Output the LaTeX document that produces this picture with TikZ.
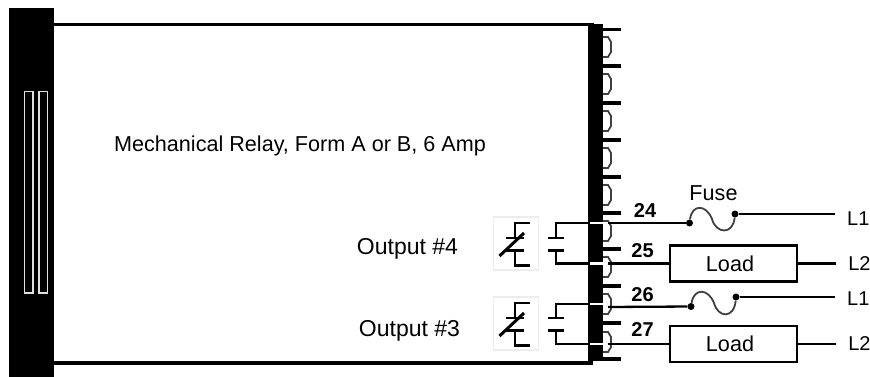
\documentclass[tikz,border=0pt]{standalone}
\usepackage{fontspec}
\setmainfont{Liberation Sans}
\usetikzlibrary{positioning}

\begin{document}
\begin{tikzpicture}
  [
    x=1pt, y=-1pt,
    font=\fontsize{21.6}{24}\selectfont,
    wire/.style={draw, line width=2.3pt},
    edge/.style={draw, line width=3.4pt},
    hook/.style={draw=black!75, line width=1.8pt},
    slot/.style={draw=black!12, fill=black, line width=1.6pt},
    symbox/.style={draw=black!7, line width=1.5pt, fill=white, minimum width=45pt, minimum height=53pt, inner sep=0pt},
    load/.style={draw, line width=2.3pt, rectangle, minimum width=127pt, minimum height=36pt, inner sep=0pt},
    dot/.style={circle, fill=black, minimum size=7pt, inner sep=0pt},
    pinno/.style={font=\fontsize{20}{24}\selectfont\bfseries, inner sep=0pt},
    term/.style={font=\fontsize{20}{24}\selectfont, inner xsep=12pt, inner ysep=0pt, anchor=west}
  ]
  \useasboundingbox (0,0) rectangle (870,377);
  \fill [white] (0,0) rectangle (870,377);

  % case
  \fill (9,8) rectangle (54,377);
  \fill (588,24) rectangle (603,361);
  \path [edge] (54,24.5) -- (594,24.5);
  \path [edge] (54,363) -- (593,363);
  \path [slot] (24.5,91.5) rectangle (33,293);
  \path [slot] (39,91.5) rectangle (47.5,293);

  % pins and hooks
  \foreach \y in {29.5,66,103,140,177,213,249,286,323,359}
    \path [edge] (603,\y) -- (621,\y);
  \foreach \y in {47,84,121,158,195,231,267,304,342}
    \path [hook] (603,\y-10) -- (608,\y-10) -- (611,\y-5) -- (611,\y+5) -- (608,\y+10) -- (603,\y+10);

  \node [inner sep=0pt] (title) at (300,146) {Mechanical Relay, Form A or B, 6 Amp};
  \node [inner sep=0pt, font=\fontsize{23}{24}\selectfont] (out4) at (407.5,249) {Output \#4};
  \node [inner sep=0pt, font=\fontsize{23}{24}\selectfont] (out3) at (409.5,331) {Output \#3};

  % relay symbols
  \foreach \o/\n in {0/4,80/3} {
    \node (sym\n) [symbox] at (516,243.5+\o) {};
    \path [wire] (530,223+\o) -- (515,223+\o) -- (515,238+\o);
    \path [wire] (506,238+\o) -- (524,238+\o);
    \path [wire] (506,250.5+\o) -- (524,250.5+\o);
    \path [wire] (515,250.5+\o) -- (515,265.5+\o) -- (530,265.5+\o);
    \draw [line width=3pt] (499.5,256+\o) -- (524,233+\o);
    \path [wire] (548,238+\o) -- (564,238+\o);
    \path [wire] (548,250.5+\o) -- (564,250.5+\o);
  }

  \coordinate (a4) at (556,238);
  \coordinate (b4) at (556,250.5);
  \coordinate (a3) at (556,318);
  \coordinate (b3) at (556,330.5);
  \coordinate (c4) at (590,223);
  \coordinate (d4) at (590,263.5);
  \coordinate (c3) at (590,304);
  \coordinate (d3) at (590,344);

  \node (load1) [load] at (733.5,263.5) {Load\hspace*{7pt}};
  \node (load2) [load] at (733.5,344) {Load\hspace*{7pt}};
  \node (dota) [dot] at (689.5,223) {};
  \node (dotb) [dot] at (735,214) {};
  \node (dotc) [dot] at (691,306.5) {};
  \node (dotd) [dot] at (736,297) {};
  \node (fuse) [inner sep=0pt] at (713.5,193) {Fuse};

  \node (l1a) [term] at (835,218.5) {L1};
  \node (l2a) [term, right=38pt of load1] {L2};
  \node (l1b) [term] at (835,298.5) {L1};
  \node (l2b) [term, right=38pt of load2] {L2};

  \node [pinno] (n24) at (645,211) {24};
  \node [pinno] (n25) at (642.5,250.5) {25};
  \node [pinno] (n26) at (642.5,294.5) {26};
  \node [pinno] (n27) at (642.5,330) {27};

  % wires out to the terminals
  \path [wire] (a4) |- (c4);
  \path [wire] (b4) |- (d4);
  \path [wire] (a3) |- (c3);
  \path [wire] (b3) |- (d3);
  \path [wire, draw=white] (c4) -- ++(18,0);
  \path [wire, draw=white] (d4) -- ++(18,0);
  \path [wire, draw=white] (c3) -- ++(18,0);
  \path [wire, draw=white] (d3) -- ++(18,0);

  \path [wire] (608,223) -- (dota);
  \path [wire] (608,263.5) -- (load1);
  \path [wire] (608,307) -- (dotc);
  \path [wire] (608,344) -- (load2);

  \path [hook] (dota) .. controls (692,204) and (706,204) .. (712,219) .. controls (716,234) and (733,235) .. (dotb);
  \path [hook] (dotc) .. controls (694,288) and (708,288) .. (714,303) .. controls (718,318) and (734,319) .. (dotd);

  \path [wire] (dotb) -- (835,214);
  \path [wire] (dotd) -- (835,297);
  \path [wire] (load1) -- (l2a);
  \path [wire] (load2) -- (l2b);
\end{tikzpicture}
\end{document}
